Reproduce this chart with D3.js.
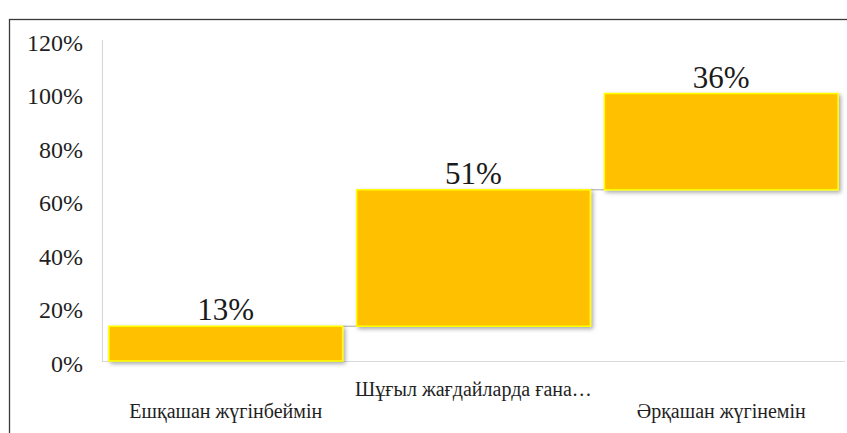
<!DOCTYPE html>
<html><head><meta charset="utf-8">
<script src="https://cdn.jsdelivr.net/npm/d3@7"></script>
<style>html,body{margin:0;padding:0;background:#fff;}svg{display:block;}
svg text{font-family:"Liberation Serif","DejaVu Serif","Times New Roman",serif;}</style>
</head><body>
<svg id="chart" width="847" height="433"></svg>
<script>
const categories = ["Ешқашан жүгінбеймін", "Шұғыл жағдайларда ғана…", "Әрқашан жүгінемін"];
const values = [0.13, 0.51, 0.36];
const valueLabels = ["13%", "51%", "36%"];
const yTicks = [0, 0.2, 0.4, 0.6, 0.8, 1.0, 1.2];

const svg = d3.select("#chart");

const defs = svg.append("defs");
const f = defs.append("filter").attr("id","sh").attr("x","-10%").attr("y","-10%").attr("width","120%").attr("height","130%");
f.append("feDropShadow").attr("dx",2).attr("dy",2).attr("stdDeviation",2.2).attr("flood-color","#000").attr("flood-opacity",0.35);

// frame
svg.append("rect").attr("x",9.5).attr("y",19.5).attr("width",900).attr("height",500)
  .attr("fill","none").attr("stroke","#3a3a3a").attr("stroke-width",1.3);

const x = d3.scaleBand().domain(categories).range([102, 845]).paddingInner(0.057).paddingOuter(0.028);
const y = d3.scaleLinear().domain([0, 1.2]).range([361, 40]);

let acc = 0;
const bars = categories.map((c, i) => { const s = acc; acc += values[i]; return {c, start: s, end: acc, label: valueLabels[i]}; });

svg.append("line").attr("x1",102).attr("x2",845).attr("y1",y(0)+0.5).attr("y2",y(0)+0.5).attr("stroke","#d9d9d9").attr("stroke-width",1.2);
svg.append("line").attr("x1",102.5).attr("x2",102.5).attr("y1",y(1.2)).attr("y2",y(0)).attr("stroke","#d9d9d9").attr("stroke-width",1.2);

const yAxis = d3.axisLeft(y).tickValues(yTicks).tickFormat(d3.format(".0%")).tickSize(0).tickPadding(0);
const ga = svg.append("g").attr("transform","translate(83,0)").call(yAxis);
ga.attr("font-family",null).attr("font-size",null);
ga.select(".domain").remove();
ga.selectAll("text").attr("font-size",24).attr("fill","#1f1f1f").attr("dy","0.42em");

svg.append("g").selectAll("line").data(bars.slice(0,-1)).join("line")
  .attr("x1",(d,i)=>x(d.c)+x.bandwidth()).attr("x2",(d,i)=>x(categories[i+1]))
  .attr("y1",d=>y(d.end)).attr("y2",d=>y(d.end))
  .attr("stroke","#a6a6a6").attr("stroke-width",1);

svg.append("g").selectAll("rect").data(bars).join("rect")
  .attr("x",d=>x(d.c)).attr("width",x.bandwidth())
  .attr("y",d=>y(d.end)).attr("height",d=>y(d.start)-y(d.end))
  .attr("fill","#FFC000").attr("stroke","#FFFF00").attr("stroke-width",1.5)
  .attr("filter","url(#sh)");

svg.append("g").selectAll("text").data(bars).join("text")
  .attr("x",d=>x(d.c)+x.bandwidth()/2).attr("y",d=>y(d.end)-6)
  .attr("text-anchor","middle").attr("font-size",31).attr("fill","#1a1a1a")
  .text(d=>d.label);

svg.append("g").selectAll("text").data(categories).join("text")
  .attr("x",d=>x(d)+x.bandwidth()/2).attr("y",(d,i)=> i%2===1 ? 396 : 418)
  .attr("text-anchor","middle").attr("font-size",20).attr("fill","#1f1f1f")
  .text(d=>d);
</script>
</body></html>
